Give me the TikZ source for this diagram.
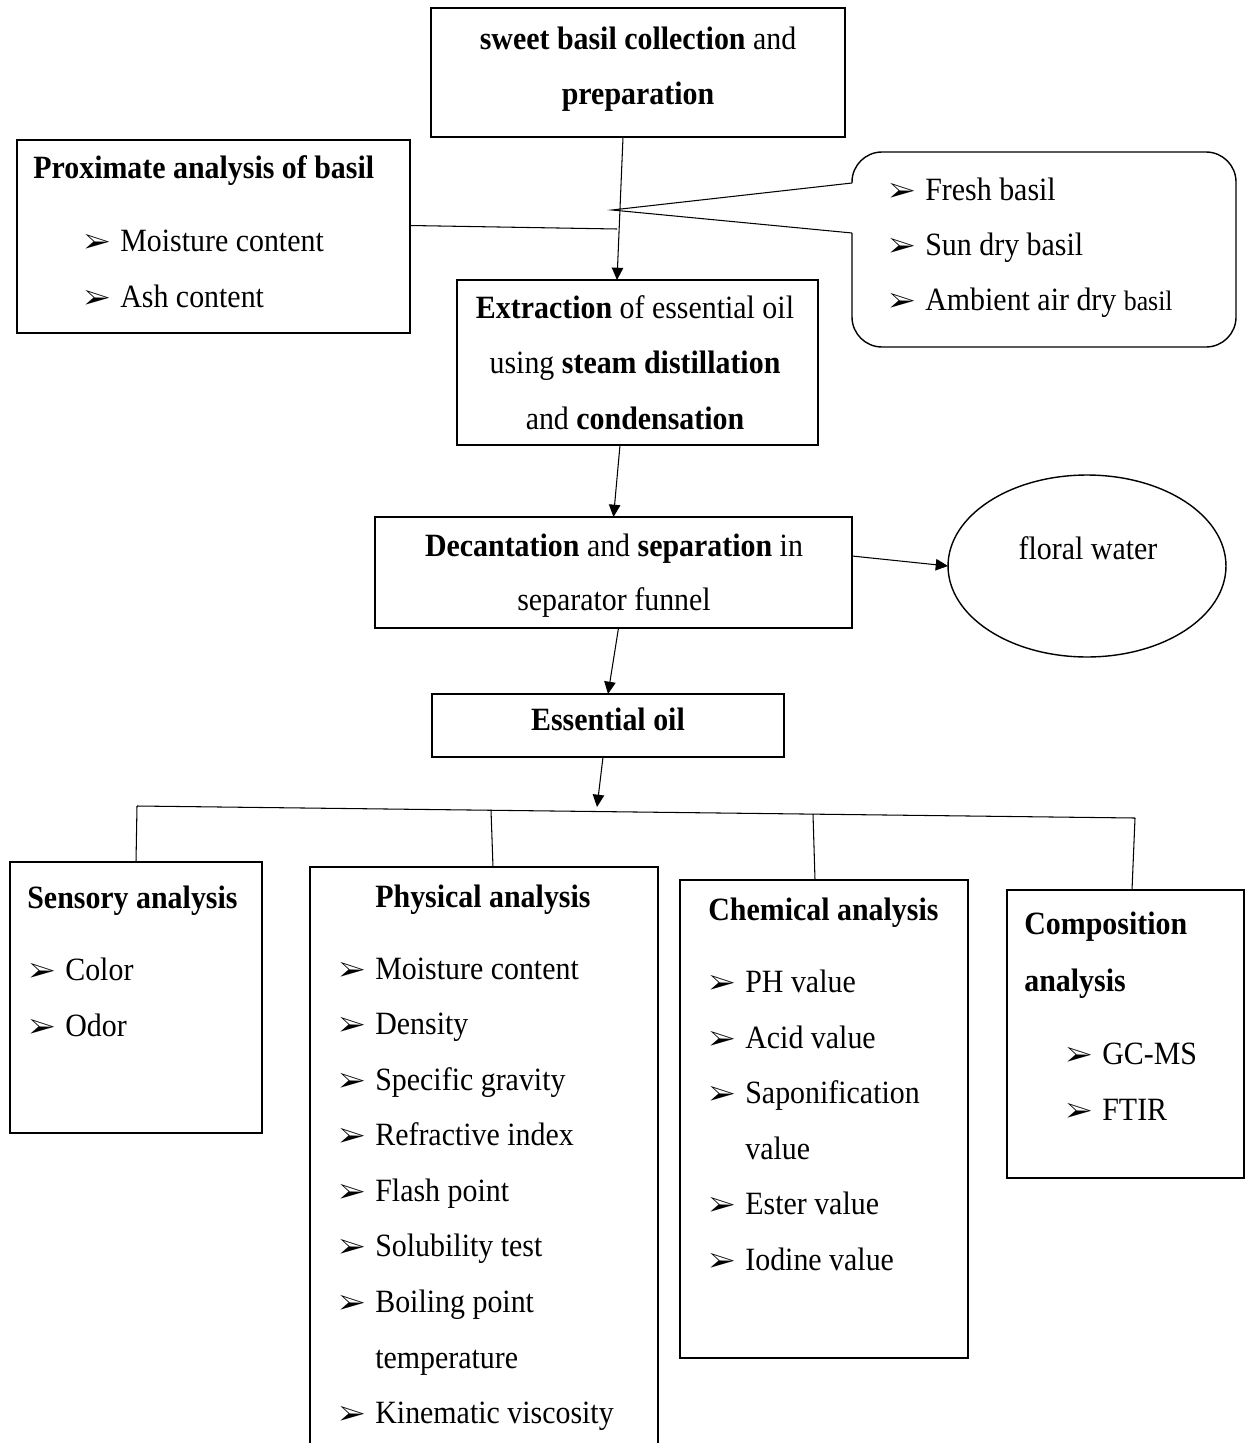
\documentclass[tikz,border=0pt]{standalone}
\usepackage{fontspec}
\setmainfont{Liberation Serif}[FakeStretch=0.92]
\usepackage{pifont}
\usetikzlibrary{arrows.meta,fit,shapes.geometric}

\newcommand{\bul}{{\fontsize{16}{16}\selectfont\ding{226}}}
\newcommand{\itm}[1]{\makebox[0.72cm][l]{\bul}#1}

\tikzset{
  box/.style={draw, line width=0.8pt, inner sep=0pt, outer sep=0pt},
  txt/.style={anchor=base west, inner sep=0pt, font=\fontsize{18.5}{22}\selectfont},
  ctxt/.style={txt, anchor=base},
  link/.style={line width=0.6pt},
  arr/.style={link, -{Triangle[length=7pt,width=6.5pt]}}
}

\begin{document}
\begin{tikzpicture}[x=0.02cm, y=-0.02cm]
    \useasboundingbox (0,0) rectangle (1251,1443);

    % boxes
    \node (top) [box, fit={(431,8) (845,137)}] {};
    \node (prox) [box, fit={(17,140) (410,333)}] {};
    \node (extr) [box, fit={(457,280) (818,445)}] {};
    \node (dec) [box, fit={(375,517) (852,628)}] {};
    \node (oil) [box, fit={(432,694) (784,757)}] {};
    \node (floral) [box, ellipse, minimum width=5.56cm, minimum height=3.64cm] at (1087,566) {};
    \node (sens) [box, fit={(10,862) (262,1133)}] {};
    \node (phys) [box, fit={(310,867) (658,1470)}] {};
    \node (chem) [box, fit={(680,880) (968,1358)}] {};
    \node (comp) [box, fit={(1007,890) (1244,1178)}] {};

    % callout with the basil samples
    \coordinate (tip) at (612,210);
    \coordinate (p1) at (852,183);
    \coordinate (p2) at (852,233);
    \draw[line width=0.8pt, rounded corners=0.6cm] (p2) -- (852,347) -- (1236,347) -- (1236,152) -- (852,152) -- (p1);
    \draw[link] (p1) -- (tip) -- (p2);

    % texts
    \node (t1) [ctxt] at (638,50) {\textbf{sweet basil collection} and};
    \node (t2) [ctxt] at (638,105) {\textbf{preparation}};

    \node (pt) [txt] at (33,178) {\textbf{Proximate analysis of basil}};
    \node (p1t) [txt] at (84,251) {\itm{Moisture content}};
    \node (p2t) [txt] at (84,307) {\itm{Ash content}};

    \node (s1) [txt] at (889,200) {\itm{Fresh basil}};
    \node (s2) [txt] at (889,255) {\itm{Sun dry basil}};
    \node (s3) [txt] at (889,310) {\itm{Ambient air dry {\fontsize{16}{18}\selectfont basil}}};

    \node (e1) [ctxt] at (635,318) {\textbf{Extraction} of essential oil};
    \node (e2) [ctxt] at (635,373) {using \textbf{steam distillation}};
    \node (e3) [ctxt] at (635,429) {and \textbf{condensation}};

    \node (d1) [ctxt] at (614,556) {\textbf{Decantation} and \textbf{separation} in};
    \node (d2) [ctxt] at (614,610) {separator funnel};

    \node (fw) [ctxt] at (1088,559) {floral water};
    \node (eo) [ctxt] at (608,730) {\textbf{Essential oil}};

    \node (st) [txt] at (27,908) {\textbf{Sensory analysis}};
    \foreach \t [count=\i] in {Color, Odor}
        \node (s\i) [txt] at (29,{980+56.5*(\i-1)}) {\itm{\t}};

    \node (yt) [txt] at (375,907) {\textbf{Physical analysis}};
    \foreach \t [count=\i] in {Moisture content, Density, Specific gravity, Refractive index, Flash point, Solubility test, Boiling point}
        \node (y\i) [txt] at (339,{979+55.5*(\i-1)}) {\itm{\t}};
    \node (y8) [txt] at (375,1368) {temperature};
    \node (y9) [txt] at (339,1423) {\itm{Kinematic viscosity}};

    \node (ct) [txt] at (708,920) {\textbf{Chemical analysis}};
    \node (c1) [txt] at (709,992) {\itm{PH value}};
    \node (c2) [txt] at (709,1048) {\itm{Acid value}};
    \node (c3) [txt] at (709,1103) {\itm{Saponification}};
    \node (c4) [txt] at (745,1159) {value};
    \node (c5) [txt] at (709,1214) {\itm{Ester value}};
    \node (c6) [txt] at (709,1270) {\itm{Iodine value}};

    \node (mt) [txt] at (1024,934) {\textbf{Composition}};
    \node (mt2) [txt] at (1024,991) {\textbf{analysis}};
    \node (m1) [txt] at (1066,1064) {\itm{GC-MS}};
    \node (m2) [txt] at (1066,1120) {\itm{FTIR}};

    % connectors
    \coordinate (k) at (617,229);
    \draw[arr] ([xshift=-0.3cm]top.south) -- ([xshift=-0.41cm]extr.north);
    \draw[link] ([yshift=0.22cm]prox.east) -- (k);
    \draw[arr] ([xshift=-0.35cm]extr.south) -- (dec.north);
    \draw[arr] ([yshift=0.33cm]dec.east) -- (floral.west);
    \draw[arr] ([xshift=0.1cm]dec.south) -- (oil.north);

    \coordinate (b1) at (137,806);
    \coordinate (b2) at (491,810);
    \coordinate (b3) at (813,814);
    \coordinate (b4) at (1135,818);
    \coordinate (bar) at (597,807);
    \draw[arr] ([xshift=-0.1cm]oil.south) -- (bar);
    \draw[link] (b1) -- (b4);
    \draw[link] (b1) -- (sens.north);
    \draw[link] (b2) -- ([xshift=0.18cm]phys.north);
    \draw[link] (b3) -- ([xshift=-0.18cm]chem.north);
    \draw[link] (b4) -- ([xshift=0.13cm]comp.north);
\end{tikzpicture}
\end{document}
